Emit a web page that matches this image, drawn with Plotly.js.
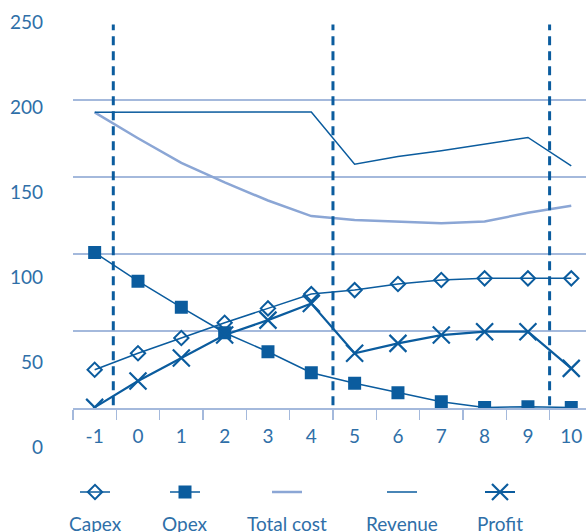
<!DOCTYPE html>
<html>
<head>
<meta charset="utf-8">
<script src="https://cdn.plot.ly/plotly-3.0.1.min.js"></script>
<style>html,body{margin:0;padding:0;overflow:hidden;background:#fff}</style>
</head>
<body>
<div id="chart" style="width:586px;height:532px"></div>
<script>
// ---- data ----
const years = [-1, 0, 1, 2, 3, 4, 5, 6, 7, 8, 9, 10];
const capex = [25, 35.7, 45.6, 55.5, 64.8, 74.1, 76.7, 80.6, 83.2, 84.3, 84.3, 84.3];
const opex = [101, 82.5, 65.5, 49, 36.7, 23.1, 16.2, 10.1, 4.3, 0.5, 1, 0.5];
const totalCost = [192, 175.2, 159.2, 146.5, 134.8, 124.7, 122.1, 121, 120.1, 121.2, 126.8, 131.4];
const revenue = [192, 192, 192, 192, 192, 192.2, 158.4, 163.3, 167.1, 171.5, 175.7, 157.3];
const profit = [0.6, 17.7, 32.6, 47.5, 57.2, 68, 35.7, 42.1, 47.5, 49.7, 49.7, 25.9];
const seriesNames = ['Capex', 'Opex', 'Total cost', 'Revenue', 'Profit'];
const yTickLabels = [0, 50, 100, 150, 200, 250];
const phaseBoundaries = [-0.57, 4.5, 9.5];

// ---- styles ----
const DARK = '#0b5c9e';
const LIGHT = '#8ba6d5';
const GRID = '#a4b9dc';
const TEXT = '#2f6fa8';
const FONT = 'Lato, "Open Sans", sans-serif';

const styles = [
  {mode: 'lines+markers', line: {color: DARK, width: 1.5}, marker: {symbol: 'diamond-open', size: 11, color: DARK, line: {width: 2, color: DARK}}},
  {mode: 'lines+markers', line: {color: DARK, width: 1.5}, marker: {symbol: 'square', size: 13, color: DARK}},
  {mode: 'lines', line: {color: LIGHT, width: 2.5}},
  {mode: 'lines', line: {color: DARK, width: 1.5}},
  {mode: 'lines+markers', line: {color: DARK, width: 2.2}, marker: {symbol: 'x-thin-open', size: 17, color: DARK, line: {width: 2.2, color: DARK}}}
];
const values = [capex, opex, totalCost, revenue, profit];

const traces = [];
values.forEach((v, i) => {
  traces.push(Object.assign({
    type: 'scatter', x: years, y: v, name: seriesNames[i],
    showlegend: false, hoverinfo: 'x+y+name'
  }, styles[i]));
});
// legend keys (one legend per series, label drawn below)
const legendIds = ['legend', 'legend2', 'legend3', 'legend4', 'legend5'];
values.forEach((v, i) => {
  traces.push(Object.assign({
    type: 'scatter', x: [null], y: [null], name: '',
    showlegend: true, legend: legendIds[i]
  }, styles[i]));
});
// dummy trace to materialise the label axis
traces.push({type: 'scatter', x: [null], y: [null], yaxis: 'y2', showlegend: false, hoverinfo: 'skip'});

const plotLeft = 73, plotTop = 22, plotRight = 586, plotBottom = 447, W = 586, H = 532;
const pw = plotRight - plotLeft, ph = plotBottom - plotTop;
const axisPix = 408.3;
const legendCenters = [95, 185, 287, 402, 500];
const legendY = 492;

const layout = {
  width: W, height: H,
  margin: {l: plotLeft, r: W - plotRight, t: plotTop, b: H - plotBottom, pad: 0},
  paper_bgcolor: '#fff', plot_bgcolor: 'rgba(0,0,0,0)',
  font: {family: FONT, size: 19, color: TEXT},
  xaxis: {
    range: [-1.5, 10.34], tickvals: years, ticktext: years.map(String),
    ticks: '', showgrid: false, zeroline: false,
    showline: true, linecolor: GRID, linewidth: 1.5,
    tickfont: {family: FONT, size: 19, color: TEXT},
    ticklabelstandoff: 10,
    minor: {tick0: -1.5, dtick: 1, ticks: 'outside', ticklen: 10, tickwidth: 1.5, tickcolor: GRID, showgrid: false},
    anchor: 'y', fixedrange: true
  },
  yaxis: {
    domain: [(plotBottom - axisPix) / ph, 1],
    range: [0, 250.6], tickvals: yTickLabels, showticklabels: false,
    showgrid: true, gridcolor: GRID, gridwidth: 1.5,
    zeroline: false, showline: false, ticks: '', fixedrange: true
  },
  yaxis2: {
    domain: [0, 1], range: [0, 250], tickvals: yTickLabels, ticktext: yTickLabels.map(String),
    showgrid: false, zeroline: false, showline: false, ticks: '',
    tickfont: {family: FONT, size: 19, color: TEXT},
    anchor: 'x', ticklabelstandoff: 29, fixedrange: true
  },
  shapes: phaseBoundaries.map(b => ({
    type: 'line', xref: 'x', yref: 'y', x0: b, x1: b, y0: 2, y1: 249,
    line: {color: DARK, width: 3, dash: '9px,6px'}
  })),
  annotations: seriesNames.map((n, i) => ({
    text: n, xref: 'paper', yref: 'paper',
    x: (legendCenters[i] - plotLeft) / pw, y: (plotBottom - 523) / ph,
    xanchor: 'center', yanchor: 'middle', showarrow: false,
    font: {family: FONT, size: 19, color: TEXT}
  })),
  showlegend: true
};
legendIds.forEach((id, i) => {
  layout[id] = {
    orientation: 'h', x: (legendCenters[i] - 15 - plotLeft) / pw, xanchor: 'left',
    y: (plotBottom - legendY) / ph, yanchor: 'middle',
    bgcolor: 'rgba(0,0,0,0)', borderwidth: 0, itemwidth: 30,
    font: {size: 1}, tracegroupgap: 0, indentation: -5
  };
});

Plotly.newPlot('chart', traces, layout, {displayModeBar: false, staticPlot: true});
</script>
</body>
</html>
